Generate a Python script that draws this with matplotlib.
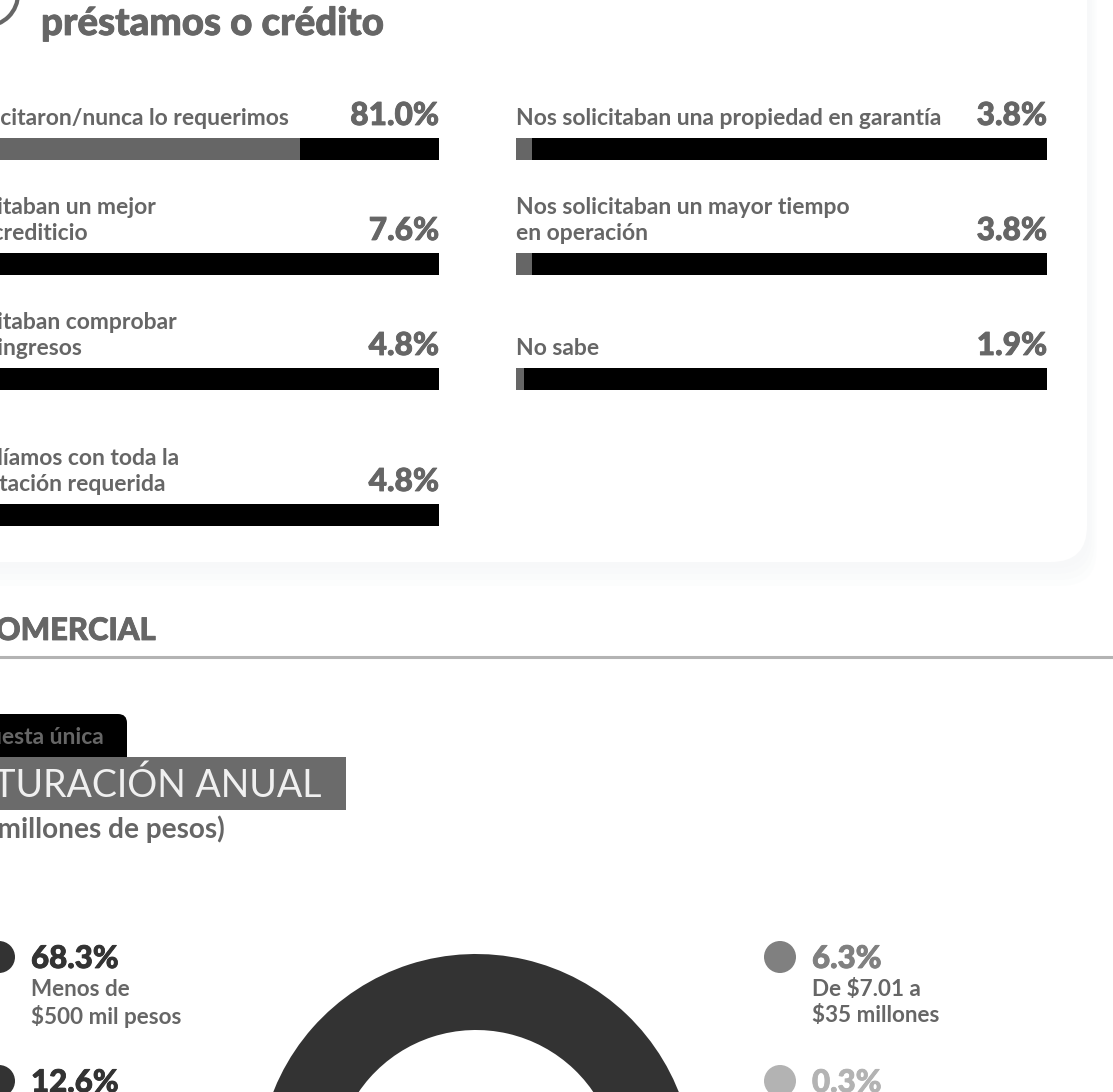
import matplotlib
matplotlib.use('Agg')
import matplotlib.pyplot as plt
import matplotlib.patheffects as pe
from matplotlib.patches import Circle, FancyBboxPatch, Rectangle

W, H = 1113, 1092
FONT = 'Lato'
GREY = '#666666'

# bars, left column
left_labels = ['No lo solicitaron/nunca lo requerimos',
               'Nos solicitaban un mejor\nhistorial crediticio',
               'Nos solicitaban comprobar\nmayores ingresos',
               'No cumplíamos con toda la\ndocumentación requerida']
left_values = [81.0, 7.6, 4.8, 4.8]

# bars, right column
right_labels = ['Nos solicitaban una propiedad en garantía',
                'Nos solicitaban un mayor tiempo\nen operación',
                'No sabe']
right_values = [3.8, 3.8, 1.9]

# donut and its legend
donut_values = [68.3, 12.6, 6.3, 0.3]
donut_colors = ['#333333', '#333333', '#808080', '#b3b3b3']


def heavy(col):
    # Lato bold is a bit thin next to the original, thicken it
    return [pe.withStroke(linewidth=0.6, foreground=col)]


def draw_bars(ax, labels, values, x0, tops, px_per_pct, text_shift=0):
    for label, val, top in zip(labels, values, tops):
        ax.barh(top + 11, 531, height=22, left=x0, color='black')
        ax.barh(top + 11, val * px_per_pct, height=22, left=x0, color=GREY)
        ax.text(x0 + text_shift, top - 9, label, ha='left', va='bottom', fontsize=16.45,
                fontweight='bold', color=GREY, family=FONT, linespacing=1.3)
        ax.text(x0 + 531, top - 8, f'{val:.1f}%', ha='right', va='bottom', fontsize=22.8,
                fontweight='black', color=GREY, family=FONT, path_effects=heavy(GREY))


fig = plt.figure(figsize=(W / 100, H / 100), dpi=100)
ax = fig.add_axes([0, 0, 1, 1])

# card with soft shadow
for grow, alpha in zip([24, 18, 12, 6], [0.25, 0.35, 0.45, 0.6]):
    ax.add_patch(FancyBboxPatch((-100, -100), 1187 + grow * 0.4, 662 + grow,
                                boxstyle='round,pad=0,rounding_size=36',
                                fc='#f7f8f9', ec='none', alpha=alpha))
ax.add_patch(FancyBboxPatch((-100, -100), 1187, 662, boxstyle='round,pad=0,rounding_size=36',
                            fc='white', ec='none'))

# icon corner and card title
ax.add_patch(Circle((-14, -6), 32, fc='none', ec=GREY, lw=3))
ax.text(41, 24, 'préstamos o crédito', ha='left', va='center', fontsize=27.7,
        fontweight='black', color=GREY, family=FONT, path_effects=heavy(GREY))

draw_bars(ax, left_labels, left_values, -92, [138, 253, 368, 504], 392 / 81, text_shift=-3)
draw_bars(ax, right_labels, right_values, 516, [138, 253, 368], 16 / 3.8)

# section header
ax.text(156, 631, 'COMERCIAL', ha='right', va='center', fontsize=22.3, fontweight='black',
        color=GREY, family=FONT, path_effects=heavy(GREY))
ax.plot([0, W], [657, 657], color='#b3b3b3', lw=2.2)

# question tab and title band
ax.add_patch(FancyBboxPatch((-60, 714), 187, 60, boxstyle='round,pad=0,rounding_size=9',
                            fc='black', ec='none'))
ax.add_patch(Rectangle((-60, 757), 406, 53, fc='#6b6b6b', ec='none'))
ax.text(104, 738, 'Respuesta única', ha='right', va='center', fontsize=16.45,
        fontweight='bold', color=GREY, family=FONT)
ax.text(322, 786, 'FACTURACIÓN ANUAL', ha='right', va='center', fontsize=27,
        color='#f0f0f0', family=FONT)
ax.text(225, 829, '(En millones de pesos)', ha='right', va='center', fontsize=20.2,
        fontweight='bold', color=GREY, family=FONT)

# donut, most of it runs off the page
ax.pie([v / 100 for v in donut_values], colors=donut_colors, radius=218, center=(476, 1172),
       startangle=-200, normalize=False, frame=True, wedgeprops=dict(width=76))

# legend
legend_rows = [(-1, 957, donut_colors[0], donut_values[0], ['Menos de', '$500 mil pesos']),
               (-1, 1081, donut_colors[1], donut_values[1], []),
               (780, 957, donut_colors[2], donut_values[2], ['De $7.01 a', '$35 millones']),
               (780, 1081, donut_colors[3], donut_values[3], [])]
for x, y, col, val, desc in legend_rows:
    ax.add_patch(Circle((x, y), 16, fc=col, ec='none'))
    ax.text(x + 32, y + 2, f'{val:.1f}%', ha='left', va='center', fontsize=22.5,
            fontweight='black', color=col, family=FONT, path_effects=heavy(col))
    for k, line in enumerate(desc):
        ax.text(x + 32, y + 32 + 27 * k, line, ha='left', va='center', fontsize=16.2,
                fontweight='bold', color=GREY, family=FONT)

ax.set_aspect('auto')
ax.set_xlim(0, W)
ax.set_ylim(H, 0)
ax.axis('off')

fig.savefig('out.png', dpi=100, facecolor='white')
